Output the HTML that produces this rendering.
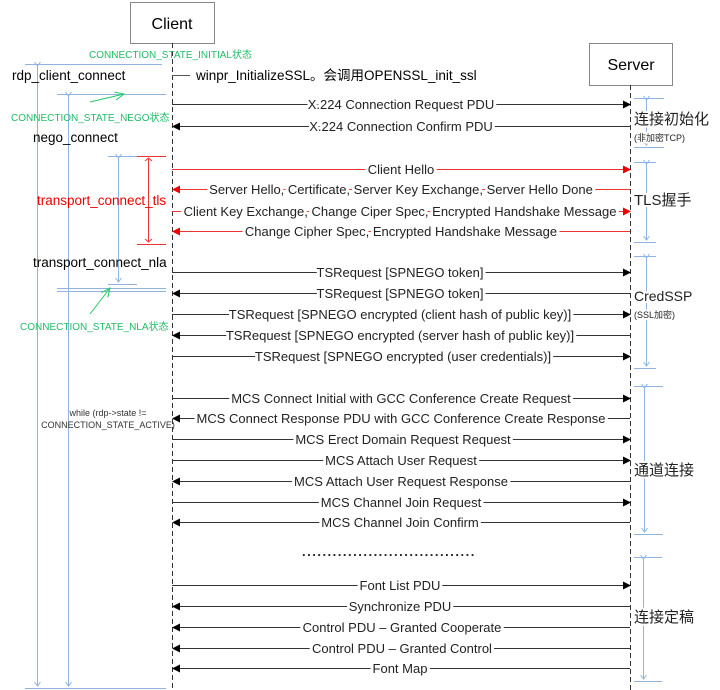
<!DOCTYPE html>
<html><head><meta charset="utf-8"><style>body{margin:0;background:#fff}svg{display:block}</style></head><body>
<svg width="720" height="690" xmlns="http://www.w3.org/2000/svg" font-family="Liberation Sans, Noto Sans CJK SC, sans-serif">
<defs>
<marker id="ak" markerWidth="8" markerHeight="8" refX="7" refY="4" orient="auto" markerUnits="userSpaceOnUse"><path d="M0,0 L8,4 L0,8z" fill="#000"/></marker>
<marker id="ar" markerWidth="8" markerHeight="8" refX="7" refY="4" orient="auto" markerUnits="userSpaceOnUse"><path d="M0,0 L8,4 L0,8z" fill="#e00"/></marker>
<marker id="ab" markerWidth="8" markerHeight="8" refX="4" refY="4" orient="auto" markerUnits="userSpaceOnUse"><path d="M0,1 L4,4 L0,7" fill="none" stroke="#8fb4e0"/></marker>
<marker id="ag" markerWidth="10" markerHeight="10" refX="9" refY="5" orient="auto" markerUnits="userSpaceOnUse"><path d="M0,1 L9,5 L0,9" fill="none" stroke="#2c6"/></marker>
</defs>
<rect x="130.5" y="2.5" width="84" height="41" fill="#fff" stroke="#888"/>
<text x="172" y="29" font-size="16" text-anchor="middle">Client</text>
<rect x="589.5" y="43.5" width="83" height="42" fill="#fff" stroke="#888"/>
<text x="631" y="70" font-size="16" text-anchor="middle">Server</text>
<line x1="172.5" y1="43" x2="172.5" y2="690" stroke="#333" stroke-dasharray="5,3"/>
<line x1="630.5" y1="85" x2="630.5" y2="690" stroke="#333" stroke-dasharray="5,3"/>

<g stroke="#8fb4e0" fill="none">
<line x1="25" y1="64.5" x2="162" y2="64.5"/>
<line x1="37.5" y1="66" x2="37.5" y2="686" marker-start="url(#ab)" marker-end="url(#ab)"/>
<line x1="57" y1="94.5" x2="166" y2="94.5"/>
<line x1="68.5" y1="96" x2="68.5" y2="686" marker-start="url(#ab)" marker-end="url(#ab)"/>
<line x1="25" y1="688.5" x2="166" y2="688.5"/>
<line x1="108" y1="156.5" x2="137" y2="156.5"/>
<line x1="118.5" y1="158" x2="118.5" y2="282" marker-start="url(#ab)" marker-end="url(#ab)"/>
<line x1="108" y1="284.5" x2="137" y2="284.5"/>
<line x1="57" y1="288.5" x2="166" y2="288.5"/>
<line x1="57" y1="291.5" x2="166" y2="291.5"/>
</g>
<g stroke="#e33" fill="none">
<line x1="137" y1="156.5" x2="166" y2="156.5"/>
<line x1="148.5" y1="158" x2="148.5" y2="242"/>
<path d="M145,161 L148.5,158 L152,161 M145,239 L148.5,242 L152,239"/>
<line x1="137" y1="244.5" x2="166" y2="244.5"/>
</g>
<line x1="90" y1="102" x2="124" y2="94" stroke="#2c6" marker-end="url(#ag)"/>
<line x1="90" y1="314" x2="110" y2="288" stroke="#2c6" marker-end="url(#ag)"/>

<g font-size="13.5">
<text x="12" y="80">rdp_client_connect</text>
<text x="33" y="142">nego_connect</text>
<text x="37" y="205" fill="#e00">transport_connect_tls</text>
<text x="33" y="267">transport_connect_nla</text>
<text x="196" y="80">winpr_InitializeSSL。会调用OPENSSL_init_ssl</text>
</g>
<line x1="172" y1="75.5" x2="190" y2="75.5" stroke="#555"/>
<g font-size="10" fill="#2b6">
<text x="89" y="58">CONNECTION_STATE_INITIAL状态</text>
<text x="11" y="121">CONNECTION_STATE_NEGO状态</text>
<text x="20" y="330">CONNECTION_STATE_NLA状态</text>
</g>
<g font-size="9" fill="#333" text-anchor="middle">
<text x="108" y="416">while (rdp-&gt;state !=</text>
<text x="108" y="428">CONNECTION_STATE_ACTIVE)</text>
</g>

<g stroke-width="1">
<line x1="172" y1="104.5" x2="630" y2="104.5" stroke="#333" marker-end="url(#ak)"/>
<line x1="630" y1="126.5" x2="173" y2="126.5" stroke="#333" marker-end="url(#ak)"/>
<line x1="172" y1="169.5" x2="630" y2="169.5" stroke="#e33" marker-end="url(#ar)"/>
<line x1="630" y1="189.5" x2="173" y2="189.5" stroke="#e33" marker-end="url(#ar)"/>
<line x1="172" y1="211.5" x2="630" y2="211.5" stroke="#e33" marker-end="url(#ar)"/>
<line x1="630" y1="231.5" x2="173" y2="231.5" stroke="#e33" marker-end="url(#ar)"/>
<line x1="172" y1="272.5" x2="630" y2="272.5" stroke="#333" marker-end="url(#ak)"/>
<line x1="630" y1="293.5" x2="173" y2="293.5" stroke="#333" marker-end="url(#ak)"/>
<line x1="172" y1="314.5" x2="630" y2="314.5" stroke="#333" marker-end="url(#ak)"/>
<line x1="630" y1="335.5" x2="173" y2="335.5" stroke="#333" marker-end="url(#ak)"/>
<line x1="172" y1="356.5" x2="630" y2="356.5" stroke="#333" marker-end="url(#ak)"/>
<line x1="172" y1="398.5" x2="630" y2="398.5" stroke="#333" marker-end="url(#ak)"/>
<line x1="630" y1="418.5" x2="173" y2="418.5" stroke="#333" marker-end="url(#ak)"/>
<line x1="172" y1="439.5" x2="630" y2="439.5" stroke="#333" marker-end="url(#ak)"/>
<line x1="172" y1="460.5" x2="630" y2="460.5" stroke="#333" marker-end="url(#ak)"/>
<line x1="630" y1="481.5" x2="173" y2="481.5" stroke="#333" marker-end="url(#ak)"/>
<line x1="172" y1="502.5" x2="630" y2="502.5" stroke="#333" marker-end="url(#ak)"/>
<line x1="630" y1="522.5" x2="173" y2="522.5" stroke="#333" marker-end="url(#ak)"/>
<line x1="172" y1="585.5" x2="630" y2="585.5" stroke="#333" marker-end="url(#ak)"/>
<line x1="630" y1="606.5" x2="173" y2="606.5" stroke="#333" marker-end="url(#ak)"/>
<line x1="630" y1="627.5" x2="173" y2="627.5" stroke="#333" marker-end="url(#ak)"/>
<line x1="630" y1="648.5" x2="173" y2="648.5" stroke="#333" marker-end="url(#ak)"/>
<line x1="630" y1="668.5" x2="173" y2="668.5" stroke="#333" marker-end="url(#ak)"/>
</g>
<g font-size="13" text-anchor="middle" fill="#222" stroke="#fff" stroke-width="6" stroke-linejoin="round" paint-order="stroke">
<text x="401" y="109">X.224 Connection Request PDU</text>
<text x="401" y="131">X.224 Connection Confirm PDU</text>
<text x="401" y="174">Client Hello</text>
<text x="401" y="194">Server Hello, Certificate, Server Key Exchange, Server Hello Done</text>
<text x="400" y="216">Client Key Exchange, Change Ciper Spec, Encrypted Handshake Message</text>
<text x="401" y="236">Change Cipher Spec, Encrypted Handshake Message</text>
<text x="400" y="277">TSRequest [SPNEGO token]</text>
<text x="400" y="298">TSRequest [SPNEGO token]</text>
<text x="400" y="319">TSRequest [SPNEGO encrypted (client hash of public key)]</text>
<text x="400" y="340">TSRequest [SPNEGO encrypted (server hash of public key)]</text>
<text x="403" y="361">TSRequest [SPNEGO encrypted (user credentials)]</text>
<text x="401" y="403">MCS Connect Initial with GCC Conference Create Request</text>
<text x="401" y="423">MCS Connect Response PDU with GCC Conference Create Response</text>
<text x="403" y="444">MCS Erect Domain Request Request</text>
<text x="401" y="465">MCS Attach User Request</text>
<text x="401" y="486">MCS Attach User Request Response</text>
<text x="401" y="507">MCS Channel Join Request</text>
<text x="400" y="527">MCS Channel Join Confirm</text>
<text x="400" y="590">Font List PDU</text>
<text x="400" y="611">Synchronize PDU</text>
<text x="402" y="632">Control PDU – Granted Cooperate</text>
<text x="402" y="653">Control PDU – Granted Control</text>
<text x="400" y="673">Font Map</text>
</g>
<text x="302" y="556" font-size="13" font-weight="bold" fill="#222" letter-spacing="1.5">..................................</text>

<g stroke="#8fb4e0" fill="none">
<line x1="634" y1="98.5" x2="664" y2="98.5"/><line x1="646.5" y1="100" x2="646.5" y2="145" marker-start="url(#ab)" marker-end="url(#ab)"/><line x1="634" y1="147.5" x2="664" y2="147.5"/>
<line x1="634" y1="162.5" x2="656" y2="162.5"/><line x1="646.5" y1="164" x2="646.5" y2="240" marker-start="url(#ab)" marker-end="url(#ab)"/><line x1="634" y1="242.5" x2="656" y2="242.5"/>
<line x1="634" y1="256.5" x2="656" y2="256.5"/><line x1="646.5" y1="258" x2="646.5" y2="366" marker-start="url(#ab)" marker-end="url(#ab)"/><line x1="634" y1="368.5" x2="656" y2="368.5"/>
<line x1="634" y1="386.5" x2="663" y2="386.5"/><line x1="644.5" y1="388" x2="644.5" y2="532" marker-start="url(#ab)" marker-end="url(#ab)"/><line x1="634" y1="534.5" x2="663" y2="534.5"/>
<line x1="634" y1="557.5" x2="662" y2="557.5"/><line x1="643.5" y1="559" x2="643.5" y2="679" marker-start="url(#ab)" marker-end="url(#ab)"/><line x1="634" y1="681.5" x2="662" y2="681.5"/>
</g>
<g fill="#222" stroke="#fff" stroke-width="4" stroke-linejoin="round" paint-order="stroke">
<text x="634" y="124" font-size="15">连接初始化</text>
<text x="634" y="141" font-size="9">(非加密TCP)</text>
<text x="634" y="205" font-size="15">TLS握手</text>
<text x="634" y="301" font-size="14">CredSSP</text>
<text x="634" y="318" font-size="9">(SSL加密)</text>
<text x="634" y="475" font-size="15">通道连接</text>
<text x="634" y="622" font-size="15">连接定稿</text>
</g>
</svg>
</body></html>
